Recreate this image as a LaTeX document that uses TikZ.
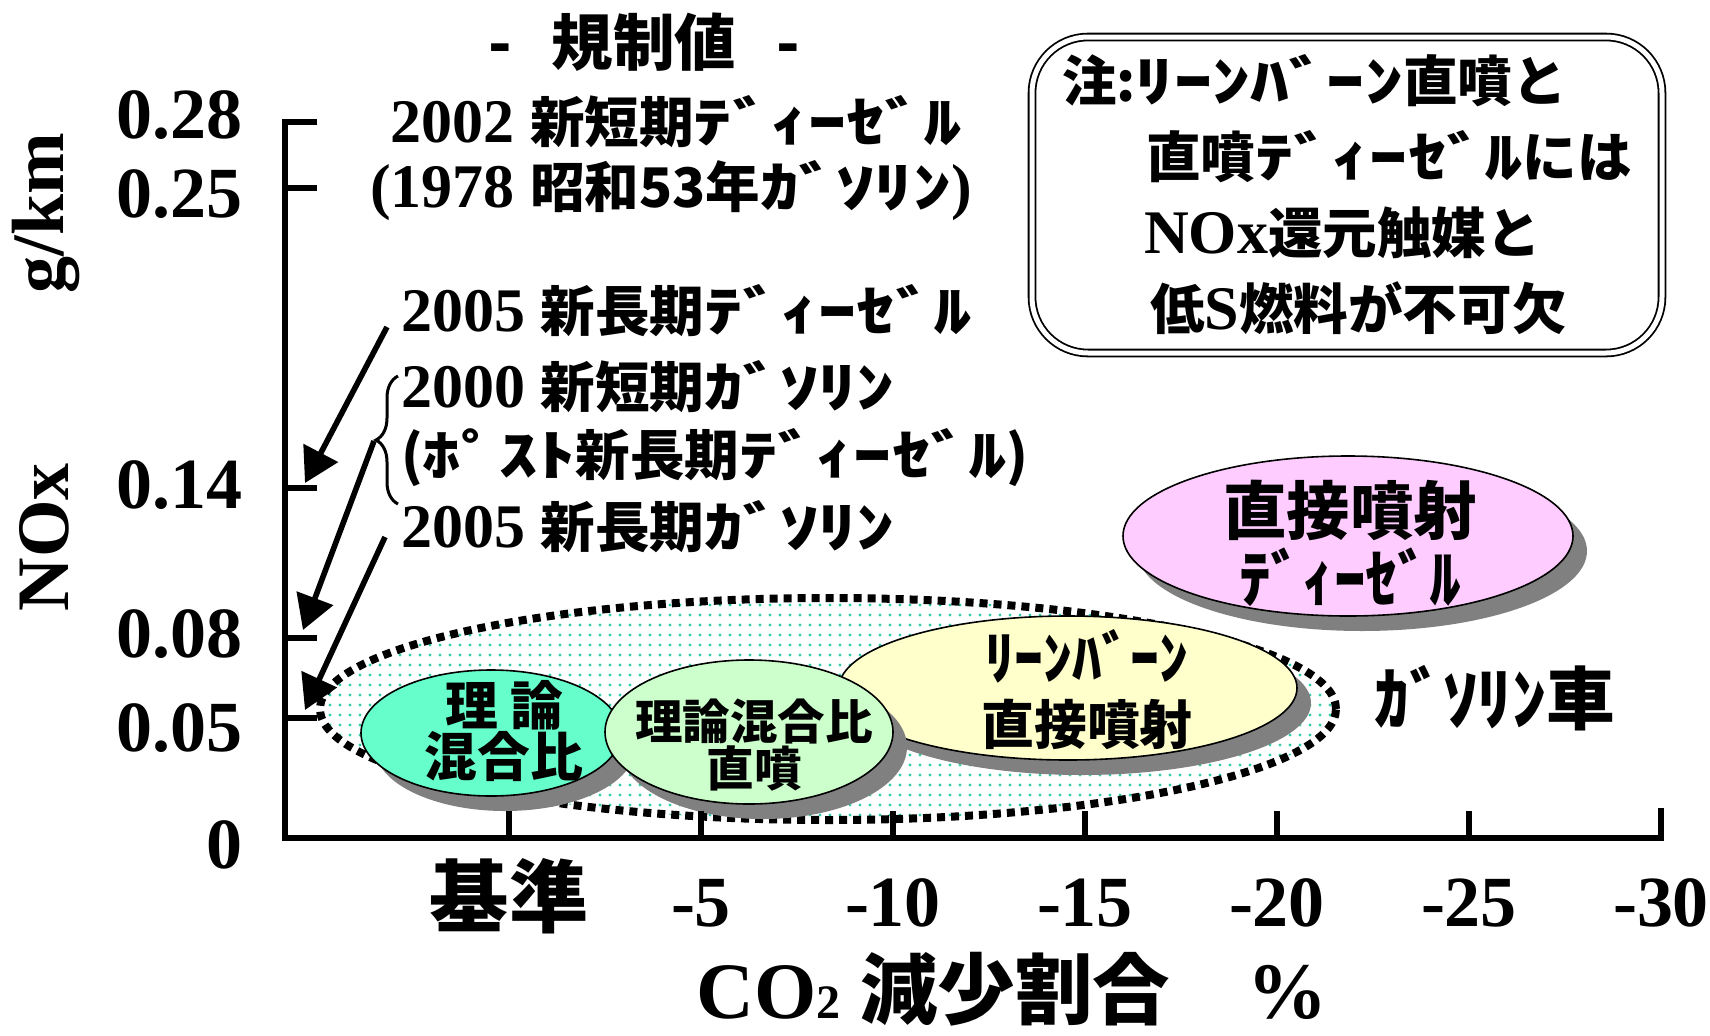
\documentclass[tikz,border=0pt]{standalone}
\usepackage{fontspec}
\setmainfont{Liberation Serif}
\newfontfamily\jpfont{Noto Sans CJK JP}[Scale=0.88]
\newfontfamily\hkfont{Noto Sans CJK JP}[Scale=0.88,FakeStretch=1.4]
\newcommand{\jp}[1]{{\jpfont #1}}
\newcommand{\hk}[1]{{\hkfont #1}}
\usetikzlibrary{arrows.meta,shapes.geometric,shadows,patterns.meta,decorations.pathreplacing}
\definecolor{tealfill}{HTML}{66FFCC}
\definecolor{mintfill}{HTML}{CCFFCC}
\definecolor{creamfill}{HTML}{FFFFCC}
\definecolor{pinkfill}{HTML}{FFCCFF}
\definecolor{shadegray}{HTML}{808080}
\definecolor{dotteal}{HTML}{33CCAA}

\begin{document}
\begin{tikzpicture}[x=0.5pt, y=-0.5pt,
     every node/.style = {inner sep=0pt, outer sep=0pt, font=\bfseries},
     axisline/.style = {line width=3pt},
     regarrow/.style = {-{Triangle[length=17pt 0 0,width=19pt 0 0]}, line width=2.8pt},
     ticklabel/.style = {anchor=east, font=\bfseries\fontsize{36}{40}\selectfont},
     xticklabel/.style = {font=\bfseries\fontsize{36}{40}\selectfont},
     reglabel/.style = {font=\bfseries\fontsize{31}{34}\selectfont},
     bubble/.style = {ellipse, draw, line width=0.8pt,
         drop shadow={shadow xshift=7pt, shadow yshift=-7.5pt,
         opacity=1, fill=shadegray}},
     gasarea/.style = {ellipse, draw, line width=4pt,
         dash pattern=on 4pt off 3pt, preaction={fill=white},
         pattern={Dots[distance=5pt, radius=0.8pt]}, pattern color=dotteal},
     notebox/.style = {draw, rounded corners=28pt, double,
         double distance=2.5pt, line width=0.9pt, minimum width=315pt,
         minimum height=158pt, align=left,
         font=\bfseries\fontsize{31}{38}\selectfont}]
    \useasboundingbox (0,0) rectangle (1710,1035);

    \node [gasarea, minimum width=508pt, minimum height=111pt]
        at (828,709) (gasoline) {};
    \node [bubble, fill=creamfill, minimum width=229pt, minimum height=72pt]
        at (1068,688) (leanburn) {};
    \node [bubble, fill=tealfill, minimum width=130pt, minimum height=63pt]
        at (491,733) (stoich) {};
    \node [bubble, fill=mintfill, minimum width=144pt, minimum height=72pt]
        at (749,732) (stoichdi) {};
    \node [bubble, fill=pinkfill, minimum width=225pt, minimum height=80pt]
        at (1348,536) (diesel) {};

    \node [align=center, font=\bfseries\jpfont\fontsize{30}{32.5}\selectfont]
        at (1087,690) (leanburntext)
        {{\fontsize{33}{32.5}\selectfont ﾘｰﾝﾊﾞｰﾝ}\\直接噴射};
    \node [align=center, font=\bfseries\jpfont\fontsize{30}{24.5}\selectfont]
        at (504,731) (stoichtext) {理 論\\混合比};
    \node [align=center, font=\bfseries\jpfont\fontsize{27}{22.5}\selectfont]
        at (754,745) (stoichditext) {理論混合比\\直噴};
    \node [align=center, font=\bfseries\jpfont\fontsize{36}{34}\selectfont]
        at (1350,543) (dieseltext) {直接噴射\\ﾃﾞｨｰｾﾞﾙ};
    \node [font=\bfseries\jpfont\fontsize{39}{42}\selectfont]
        at (1495,698) (gasolinetext) {ｶﾞｿﾘﾝ車};

    \draw [axisline] (317,122) -- (285,122) -- (285,838)
        -- (1661,838) -- (1661,808);
    \foreach \y in {188,488,638,718}
        \draw [axisline] (285,\y) -- (317,\y);
    \foreach \x in {509,701,893,1085,1277,1469}
        \draw [axisline] (\x,838) -- (\x,811);

    \node [ticklabel] at (242,115) (y28) {0.28};
    \node [ticklabel] at (242,194) (y25) {0.25};
    \node [ticklabel] at (242,485) (y14) {0.14};
    \node [ticklabel] at (242,634) (y08) {0.08};
    \node [ticklabel] at (242,728) (y05) {0.05};
    \node [ticklabel] at (242,845) (y00) {0};
    \node [rotate=90, font=\bfseries\fontsize{37}{40}\selectfont]
        at (44,537) (ytitle) {NOx};
    \node [rotate=90, font=\bfseries\fontsize{37}{40}\selectfont]
        at (46,213) (yunit) {g/km};

    \node [font=\bfseries\jpfont\fontsize{45}{50}\selectfont]
        at (509,896) (xbase) {基準};
    \foreach \x/\t/\n in {701/-5/5, 893/-10/10, 1085/-15/15,
            1277/-20/20, 1469/-25/25, 1661/-30/30}
        \node [xticklabel] at (\x,903) (xlab\n) {\t};
    \node [anchor=base, font=\bfseries\fontsize{40}{44}\selectfont]
        at (1012,1018) (xtitle)
        {CO{\fontsize{24}{24}\selectfont 2}
         {\jpfont\fontsize{44}{48}\selectfont 減少割合　}\%};

    \node [font=\bfseries\jpfont\fontsize{35}{40}\selectfont]
        at (644,42) (regtitle) {-\hspace{20pt}規制値\hspace{20pt}-};
    \node [reglabel] at (676,122) (reg2002d) {2002 \jp{新短期}\hk{ﾃﾞｨｰｾﾞﾙ}};
    \node [reglabel] at (671,191) (reg1978g) {(1978 \jp{昭和53年}\hk{ｶﾞｿﾘﾝ})};
    \node [reglabel, anchor=west] at (401,311) (reg2005d)
        {2005 \jp{新長期}\hk{ﾃﾞｨｰｾﾞﾙ}};
    \node [reglabel, anchor=west] at (401,387) (reg2000g)
        {2000 \jp{新短期}\hk{ｶﾞｿﾘﾝ}};
    \node [reglabel, anchor=west] at (401,458) (regpost)
        {\jp{(}\hk{ﾎﾟｽﾄ}\jp{新長期}\hk{ﾃﾞｨｰｾﾞﾙ}\jp{)}};
    \node [reglabel, anchor=west] at (401,527) (reg2005g)
        {2005 \jp{新長期}\hk{ｶﾞｿﾘﾝ}};

    \draw [decorate, decoration={brace, amplitude=11pt}, line width=1.5pt]
        (398,504) -- (398,376);
    \coordinate (src14) at (387,327);
    \coordinate (src08) at (374,441);
    \coordinate (src05) at (385,537);
    \coordinate (tip14) at (305,483);
    \coordinate (tip08) at (303,630);
    \coordinate (tip05) at (305,710);
    \draw [regarrow] (src14) -- (tip14);
    \draw [regarrow] (src08) -- (tip08);
    \draw [regarrow] (src05) -- (tip05);

    \node [notebox] at (1347,195) (note)
        {\jp{注:}\hk{ﾘｰﾝﾊﾞｰﾝ}\jp{直噴と}\\
         \hspace*{42pt}\jp{直噴}\hk{ﾃﾞｨｰｾﾞﾙ}\jp{には}\\
         \hspace*{41pt}NOx\jp{還元触媒と}\\
         \hspace*{44pt}\jp{低}S\jp{燃料が不可欠}};
\end{tikzpicture}
\end{document}
